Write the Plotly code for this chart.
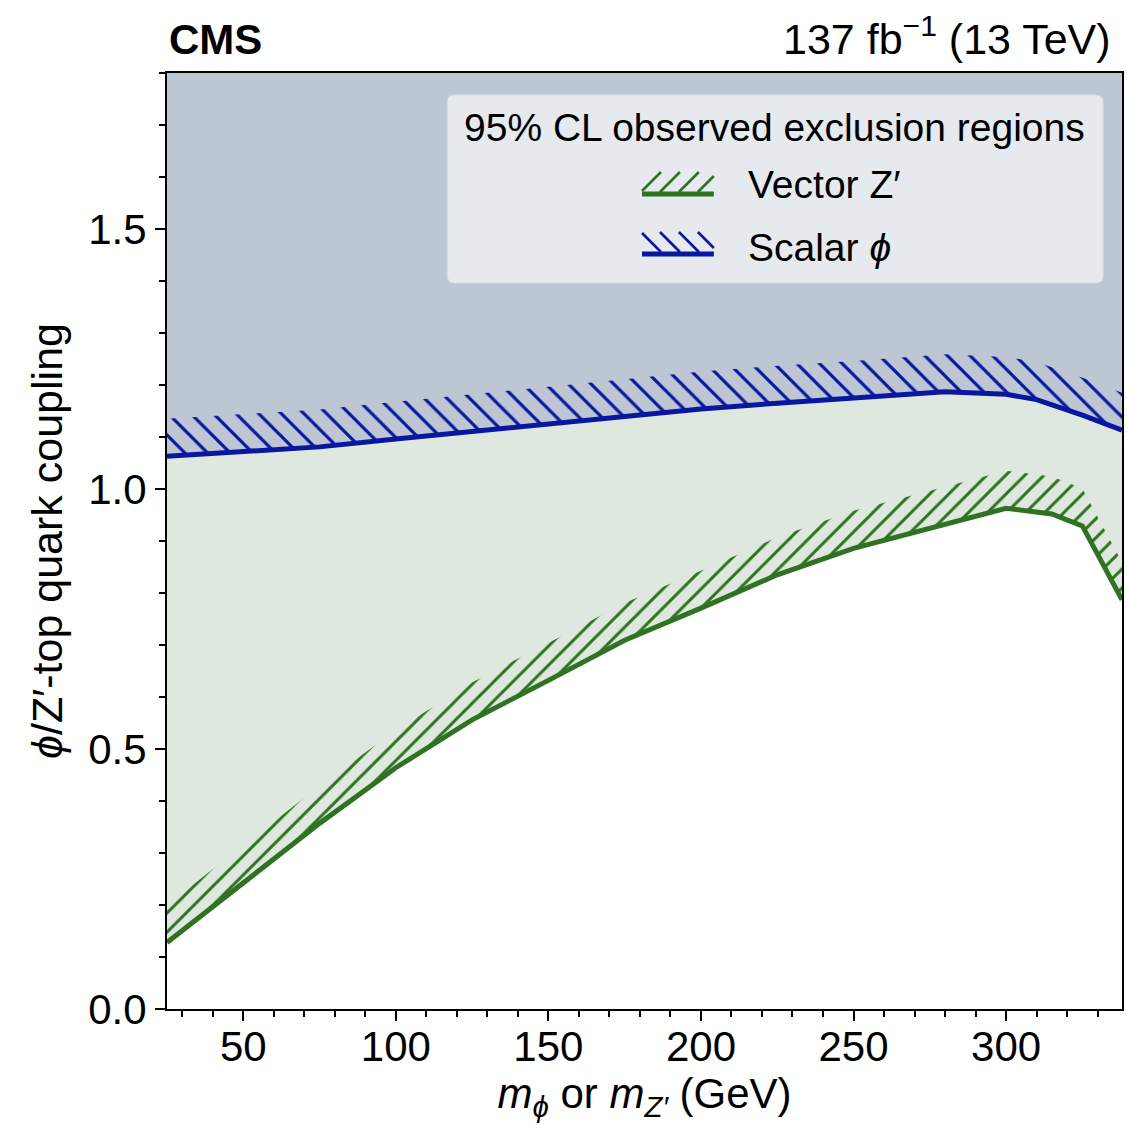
import plotly.graph_objects as go

# ---------------- data ----------------
mass_vector = [25, 50, 75, 100, 125, 150, 175, 200, 225, 250, 275, 300, 315, 325, 338]
coupling_vector = [0.128, 0.243, 0.357, 0.464, 0.556, 0.632, 0.709, 0.771, 0.835,
                   0.886, 0.924, 0.963, 0.952, 0.929, 0.787]

mass_scalar = [25, 50, 75, 100, 125, 150, 175, 200, 225, 250, 280, 300, 310, 325, 338]
coupling_scalar = [1.063, 1.072, 1.081, 1.096, 1.110, 1.125, 1.139, 1.154, 1.165,
                   1.174, 1.187, 1.182, 1.172, 1.142, 1.113]

x_ticks = [50, 100, 150, 200, 250, 300]
y_ticks = [0.0, 0.5, 1.0, 1.5]

# ---------------- style ----------------
FONT = "Liberation Sans, Arial, Helvetica, sans-serif"
C_BLUE = "#0a16a0"
C_GREEN = "#2f7222"
C_EXCL = "#bdc7d3"
C_ALLOW = "#dfe8de"
HATCH_H = 0.072

W, H = 1127, 1125
L, R, T, B = 167, 1124, 73, 1009


def px(x):
    return (x - L) / (R - L)


def py(y):
    return (B - y) / (B - T)


fig = go.Figure()

# white below vector curve (plot background is the excluded colour)
fig.add_trace(go.Scatter(x=mass_vector, y=coupling_vector, mode="lines",
                         line=dict(width=0), fill="tozeroy", fillcolor="white",
                         hoverinfo="skip", showlegend=False))
# light green between vector and scalar curves
fig.add_trace(go.Scatter(x=mass_scalar, y=coupling_scalar, mode="lines",
                         line=dict(width=0), fill="tonexty", fillcolor=C_ALLOW,
                         hoverinfo="skip", showlegend=False))

# hatched bands
for xs, ys, col, shape, size, sol in [
    (mass_scalar, coupling_scalar, C_BLUE, "\\", 16, 0.2),
    (mass_vector, coupling_vector, C_GREEN, "/", 13.5, 0.22),
]:
    fig.add_trace(go.Scatter(x=xs, y=ys, mode="lines", line=dict(width=0),
                             hoverinfo="skip", showlegend=False))
    fig.add_trace(go.Scatter(x=xs, y=[v + HATCH_H for v in ys], mode="lines",
                             line=dict(width=0), fill="tonexty",
                             fillcolor="rgba(0,0,0,0)",
                             fillpattern=dict(shape=shape, fgcolor=col, fgopacity=1,
                                              bgcolor="rgba(0,0,0,0)",
                                              size=size, solidity=sol),
                             hoverinfo="skip", showlegend=False))

# the limit curves
fig.add_trace(go.Scatter(x=mass_scalar, y=coupling_scalar, mode="lines",
                         line=dict(color=C_BLUE, width=5), name="Scalar ϕ",
                         showlegend=False))
fig.add_trace(go.Scatter(x=mass_vector, y=coupling_vector, mode="lines",
                         line=dict(color=C_GREEN, width=5), name="Vector Z′",
                         showlegend=False))

# ---------------- manual legend ----------------
shapes = []
bx0, bx1, by0, by1, rr = 448, 1105, 95, 283, 7
path = (f"M{px(bx0 + rr)},{py(by0)} L{px(bx1 - rr)},{py(by0)} "
        f"Q{px(bx1)},{py(by0)} {px(bx1)},{py(by0 + rr)} "
        f"L{px(bx1)},{py(by1 - rr)} Q{px(bx1)},{py(by1)} {px(bx1 - rr)},{py(by1)} "
        f"L{px(bx0 + rr)},{py(by1)} Q{px(bx0)},{py(by1)} {px(bx0)},{py(by1 - rr)} "
        f"L{px(bx0)},{py(by0 + rr)} Q{px(bx0)},{py(by0)} {px(bx0 + rr)},{py(by0)} Z")
shapes.append(dict(type="path", xref="paper", yref="paper", path=path,
                   fillcolor="#e6e9ee", line=dict(color="#d8dce2", width=1), layer="above"))


def hatch_symbol(x0, x1, ytop, ybot, step, direction, color):
    out = []
    hgt = ybot - ytop
    k = x0 - hgt
    while k < x1:
        if direction == "/":
            xa, ya, xb, yb = k, ybot, k + hgt, ytop
        else:
            xa, ya, xb, yb = k, ytop, k + hgt, ybot
        if xa < x0:
            t = (x0 - xa) / (xb - xa)
            xa, ya = x0, ya + t * (yb - ya)
        if xb > x1:
            t = (x1 - xa) / (xb - xa)
            xb, yb = x1, ya + t * (yb - ya)
        if xb > xa:
            out.append(dict(type="line", xref="paper", yref="paper",
                            x0=px(xa), y0=py(ya), x1=px(xb), y1=py(yb),
                            line=dict(color=color, width=2.6), layer="above"))
        k += step
    return out


sx0, sx1 = 643, 715
shapes += hatch_symbol(sx0, sx1, 172, 192, 19, "/", C_GREEN)
shapes.append(dict(type="line", xref="paper", yref="paper", x0=px(sx0), x1=px(sx1),
                   y0=py(194), y1=py(194), line=dict(color=C_GREEN, width=5), layer="above"))
shapes += hatch_symbol(sx0, sx1, 232, 252, 19, "\\", C_BLUE)
shapes.append(dict(type="line", xref="paper", yref="paper", x0=px(sx0), x1=px(sx1),
                   y0=py(254), y1=py(254), line=dict(color=C_BLUE, width=5), layer="above"))

annotations = [
    dict(text="95% CL observed exclusion regions", x=px(776), y=py(127),
         xref="paper", yref="paper", showarrow=False, xanchor="center", yanchor="middle",
         font=dict(size=39, color="black", family=FONT)),
    dict(text="Vector Z′", x=px(747), y=py(184), xref="paper", yref="paper",
         showarrow=False, xanchor="left", yanchor="middle",
         font=dict(size=39, color="black", family=FONT)),
    dict(text="Scalar <i>ϕ</i>", x=px(747), y=py(247), xref="paper", yref="paper",
         showarrow=False, xanchor="left", yanchor="middle",
         font=dict(size=39, color="black", family=FONT)),
    dict(text="<b>CMS</b>", x=0, y=1, xref="paper", yref="paper", showarrow=False,
         xanchor="left", yanchor="bottom", yshift=8,
         font=dict(size=42, color="black", family=FONT)),
    dict(text="137 fb<sup>−1</sup> (13 TeV)", x=1, y=1, xref="paper", yref="paper",
         showarrow=False, xanchor="right", yanchor="bottom", xshift=-9, yshift=8,
         font=dict(size=43, color="black", family=FONT)),
]

axis_common = dict(showline=True, linecolor="black", linewidth=2, mirror=True,
                   ticks="outside", ticklen=10, tickwidth=2, tickcolor="black",
                   showgrid=False, zeroline=False,
                   tickfont=dict(size=42, color="black", family=FONT))

fig.update_layout(
    width=W, height=H,
    margin=dict(l=L, r=W - R, t=T, b=H - B),
    paper_bgcolor="white", plot_bgcolor=C_EXCL,
    font=dict(family=FONT, color="black"),
    shapes=shapes, annotations=annotations,
    showlegend=False,
    xaxis=dict(range=[25, 338], tickvals=x_ticks, ticklabelstandoff=-10,
               minor=dict(dtick=10, tick0=0, ticks="outside", ticklen=6, tickwidth=1.5,
                          tickcolor="black"),
               title=dict(text="<i>m</i><sub><i>ϕ</i></sub> or <i>m</i><sub><i>Z′</i></sub> (GeV)",
                          font=dict(size=42, family=FONT), standoff=8),
               **axis_common),
    yaxis=dict(range=[0, 1.8], tickvals=y_ticks, tickformat=".1f",
               minor=dict(dtick=0.1, tick0=0, ticks="outside", ticklen=6, tickwidth=1.5,
                          tickcolor="black"),
               title=dict(text="<i>ϕ</i>/Z′-top quark coupling",
                          font=dict(size=43, family=FONT), standoff=12),
               **axis_common),
)

fig.write_html("out.html")
